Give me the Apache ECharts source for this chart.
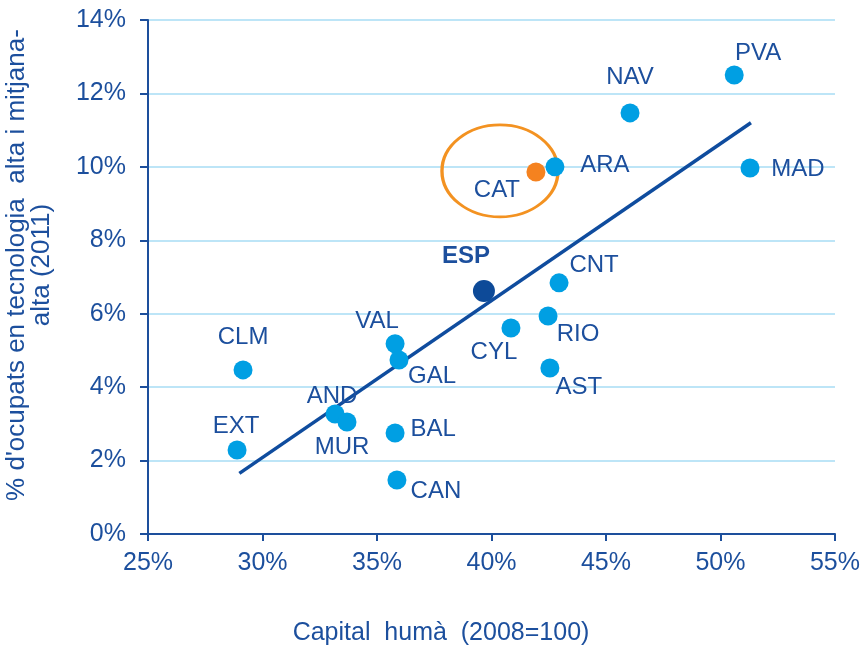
<!DOCTYPE html>
<html>
<head>
<meta charset="utf-8">
<script src="https://cdn.jsdelivr.net/npm/echarts@6/dist/echarts.min.js"></script>
<style>
html,body{margin:0;padding:0;background:#fff;}
#chart{width:863px;height:645px;}
</style>
</head>
<body>
<div id="chart"></div>
<script>
// ---- data ----
const regions = ['PVA','NAV','ARA','MAD','CNT','CYL','RIO','AST','VAL','GAL','CLM','AND','MUR','BAL','EXT','CAN'];
const capitalHuma = [50.6, 46.05, 42.77, 51.29, 42.95, 40.85, 42.47, 42.55, 35.79, 35.96, 29.15, 33.17, 33.69, 35.79, 28.89, 35.87];
const ocupatsTec = [12.5, 11.47, 10.0, 9.97, 6.84, 5.61, 5.94, 4.52, 5.18, 4.74, 4.47, 3.27, 3.05, 2.75, 2.29, 1.47];
const espName = 'ESP';
const espValue = [39.67, 6.62];
const catName = 'CAT';
const catValue = [41.94, 9.86];
const trendX = [28.99, 51.33];
const trendY = [1.65, 11.2];
const highlightCenter = [40.37, 9.89];
const xTicks = [25, 30, 35, 40, 45, 50, 55];
const yTicks = [0, 2, 4, 6, 8, 10, 12, 14];
const xTitle = 'Capital  humà  (2008=100)';
const yTitle = ["% d'ocupats en tecnologia  alta i mitjana-", 'alta (2011)'];

// ---- layout / style (label offsets from point centre, px) ----
const labelOffset = {
  PVA:[24,-22], NAV:[0,-36], ARA:[50,-1], MAD:[48,1], CNT:[35,-17], CYL:[-17,24],
  RIO:[30,18], AST:[29,19], VAL:[-18,-22], GAL:[33,16], CLM:[0,-33], AND:[-3,-18],
  MUR:[-5,25], BAL:[38,-4], EXT:[-1,-24], CAN:[39,11], ESP:[-18,-35], CAT:[-39,18]
};
const TEXT = '#1c4f9d';
const FONT = 'Liberation Sans, Arial, sans-serif';
const FS = 24;

function lbl(name, bold){
  return {show:true, position:'inside', offset:labelOffset[name], formatter:name,
    color:TEXT, fontSize:FS, fontFamily:FONT, fontWeight: bold ? 'bold' : 'normal',
    align:'center', verticalAlign:'middle', opacity:1};
}

const regionData = regions.map((r,i)=>({name:r, value:[capitalHuma[i], ocupatsTec[i]], label:lbl(r)}));

const chart = echarts.init(document.getElementById('chart'), null, {renderer:'canvas'});
chart.setOption({
  animation:false,
  backgroundColor:'#fff',
  grid:{left:148, right:28, top:20, bottom:111},
  xAxis:{
    type:'value', min:xTicks[0], max:xTicks[xTicks.length-1], interval:5,
    axisLine:{show:true, onZero:false, lineStyle:{color:'#1d4f9c', width:2}},
    axisTick:{show:true, inside:false, length:7, lineStyle:{color:'#1d4f9c', width:2}},
    axisLabel:{color:TEXT, fontSize:25, fontFamily:FONT, margin:17, formatter:v=>v+'%'},
    splitLine:{show:false}
  },
  yAxis:{
    type:'value', min:yTicks[0], max:yTicks[yTicks.length-1], interval:2,
    axisLine:{show:true, onZero:false, lineStyle:{color:'#1d4f9c', width:2}},
    axisTick:{show:true, inside:false, length:8, lineStyle:{color:'#1d4f9c', width:2}},
    axisLabel:{color:TEXT, fontSize:25, fontFamily:FONT, margin:22, formatter:v=>v+'%'},
    splitLine:{show:true, lineStyle:{color:'#bde5f7', width:2}}
  },
  graphic:[
    {type:'text', x:441, y:633, style:{text:xTitle, fill:TEXT, font:'25px '+FONT, textAlign:'center', textVerticalAlign:'middle'}},
    {type:'text', x:17, y:265, rotation:Math.PI/2, style:{text:yTitle[0], fill:TEXT, font:'26px '+FONT, textAlign:'center', textVerticalAlign:'middle'}},
    {type:'text', x:42, y:265, rotation:Math.PI/2, style:{text:yTitle[1], fill:TEXT, font:'26px '+FONT, textAlign:'center', textVerticalAlign:'middle'}}
  ],
  series:[
    {type:'scatter', silent:true, z:1, symbol:'circle', symbolSize:[116,92],
      itemStyle:{color:'rgba(0,0,0,0)', borderColor:'#f39221', borderWidth:3, opacity:1},
      data:[highlightCenter]},
    {type:'line', silent:true, z:2, showSymbol:false, symbol:'none',
      lineStyle:{color:'#0f4c9e', width:3.5},
      data:trendX.map((x,i)=>[x, trendY[i]])},
    {type:'scatter', z:3, symbolSize:19, itemStyle:{color:'#009fe3', opacity:1}, data:regionData},
    {type:'scatter', z:4, symbolSize:22, itemStyle:{color:'#0d4a98', opacity:1},
      data:[{name:espName, value:espValue, label:lbl(espName, true)}]},
    {type:'scatter', z:4, symbolSize:19, itemStyle:{color:'#f5821f', opacity:1},
      data:[{name:catName, value:catValue, label:lbl(catName)}]}
  ]
});
</script>
</body>
</html>
